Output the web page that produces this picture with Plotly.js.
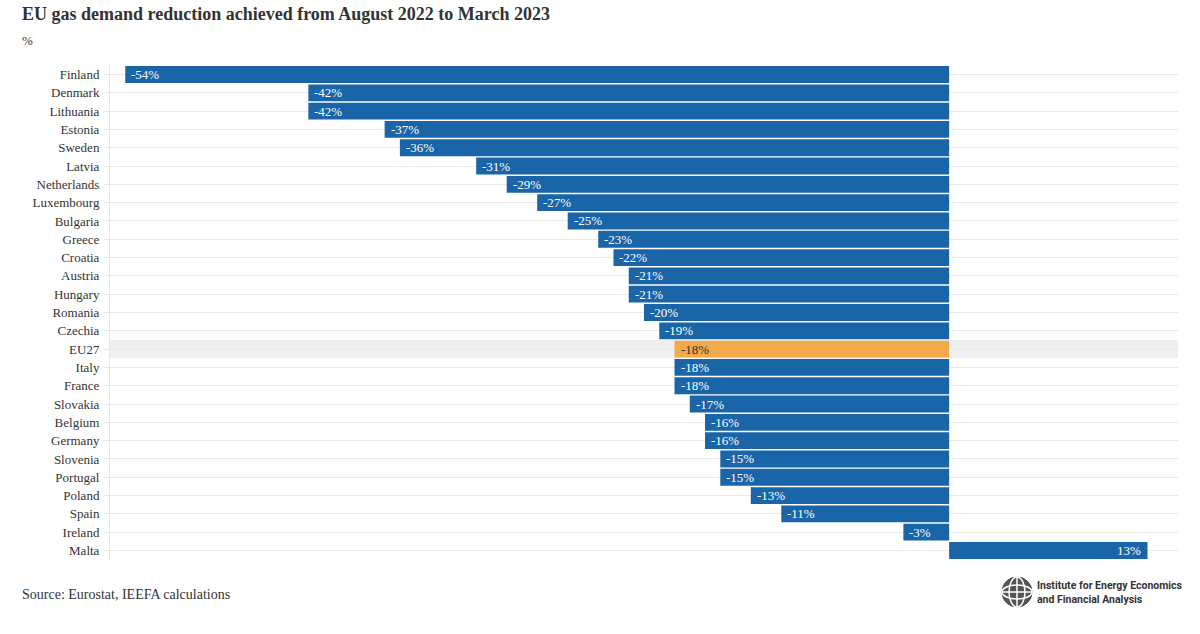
<!DOCTYPE html>
<html>
<head>
<meta charset="utf-8">
<script src="https://cdn.plot.ly/plotly-3.0.1.min.js"></script>
<style>html,body{margin:0;padding:0;background:#fff;}#chart{width:1200px;height:634px;}</style>
</head>
<body>
<div id="chart"></div>
<script>
const countries = ["Finland","Denmark","Lithuania","Estonia","Sweden","Latvia","Netherlands","Luxembourg","Bulgaria","Greece","Croatia","Austria","Hungary","Romania","Czechia","EU27","Italy","France","Slovakia","Belgium","Germany","Slovenia","Portugal","Poland","Spain","Ireland","Malta"];
const reduction = [-54,-42,-42,-37,-36,-31,-29,-27,-25,-23,-22,-21,-21,-20,-19,-18,-18,-18,-17,-16,-16,-15,-15,-13,-11,-3,13];
const highlight = "EU27";

const BLUE = "#1a64a8", ORANGE = "#f2aa4c";
const serif = "Liberation Serif";
const hiIdx = countries.indexOf(highlight);

const trace = {
  type: "bar",
  orientation: "h",
  y: countries,
  x: reduction,
  marker: {color: countries.map(c => c === highlight ? ORANGE : BLUE), line: {width: 0}},
  hoverinfo: "none"
};

// value labels inside the bar tips, placed at each data value
const valueLabels = countries.map((c, i) => ({
  x: reduction[i], y: c, xref: "x", yref: "y",
  text: reduction[i] + "%",
  xanchor: reduction[i] < 0 ? "left" : "right",
  xshift: reduction[i] < 0 ? 4 : -4,
  yanchor: "middle", showarrow: false,
  font: {family: serif, size: 13, color: c === highlight ? "#333333" : "#ffffff"}
}));

const logoX = (1017-110)/1068, logoY = (634-74-592)/495;
function logoShape(extra) {
  return Object.assign({xref: "paper", yref: "paper", xsizemode: "pixel", ysizemode: "pixel", xanchor: logoX, yanchor: logoY}, extra);
}

const layout = {
  width: 1200, height: 634,
  margin: {l: 110, r: 22, t: 65, b: 74},
  paper_bgcolor: "#fff", plot_bgcolor: "#fff",
  bargap: 0.08,
  showlegend: false,
  font: {family: serif, size: 13, color: "#333"},
  xaxis: {range: [-55, 15], showticklabels: false, showgrid: false, zeroline: false, showline: false, ticks: "", fixedrange: true},
  yaxis: {autorange: "reversed", showgrid: true, gridcolor: "#e9e9e9", gridwidth: 1, showline: true, linecolor: "#e6e6e6", linewidth: 1,
          ticks: "outside", ticklen: 5, tickcolor: "#e6e6e6", ticklabelstandoff: 2, tickfont: {family: serif, size: 13, color: "#333"}},
  shapes: [
    {type: "rect", xref: "paper", yref: "y", x0: 0, x1: 1, y0: hiIdx - 0.5, y1: hiIdx + 0.5, fillcolor: "#efefef", line: {width: 0}, layer: "below"},
    logoShape({type: "circle", x0: -15, x1: 15, y0: -15, y1: 15, fillcolor: "#555", line: {color: "#444", width: 1}}),
    logoShape({type: "circle", x0: -8, x1: 8, y0: -15, y1: 15, fillcolor: "rgba(0,0,0,0)", line: {color: "#fff", width: 1.5}}),
    logoShape({type: "circle", x0: -15, x1: 15, y0: -7, y1: 7, fillcolor: "rgba(0,0,0,0)", line: {color: "#fff", width: 1.5}}),
    logoShape({type: "line", x0: 0, x1: 0, y0: -15, y1: 15, line: {color: "#fff", width: 1.5}}),
    logoShape({type: "line", x0: -15, x1: 15, y0: 0, y1: 0, line: {color: "#fff", width: 1.5}})
  ],
  annotations: valueLabels.concat([
    {text: "<b>EU gas demand reduction achieved from August 2022 to March 2023</b>", xref: "paper", yref: "paper",
     x: (20-110)/1068, y: (634-74-14)/495, xanchor: "left", yanchor: "middle", showarrow: false,
     font: {family: serif, size: 18, color: "#333"}},
    {text: "%", xref: "paper", yref: "paper", x: (20-110)/1068, y: (634-74-41)/495, xanchor: "left", yanchor: "middle",
     showarrow: false, font: {family: serif, size: 13, color: "#333"}},
    {text: "Source: Eurostat, IEEFA calculations", xref: "paper", yref: "paper", x: (20-110)/1068, y: (634-74-594)/495,
     xanchor: "left", yanchor: "middle", showarrow: false, font: {family: serif, size: 14, color: "#333"}},
    {text: "<b>Institute for Energy Economics<br>and Financial Analysis</b>", xref: "paper", yref: "paper",
     x: (1185-110)/1068, y: (634-74-592)/495, xanchor: "right", yanchor: "middle", align: "left", showarrow: false,
     font: {family: "Roboto", size: 10.5, color: "#333"}}
  ])
};

Plotly.newPlot("chart", [trace], layout, {displayModeBar: false, staticPlot: true});
</script>
</body>
</html>
